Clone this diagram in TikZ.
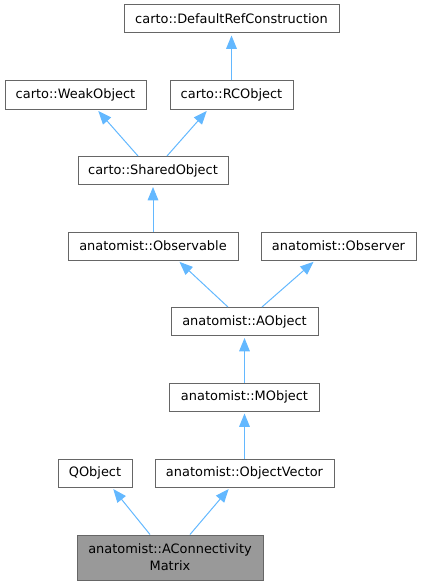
\documentclass[tikz,border=0pt]{standalone}
\usepackage{fontspec}
\setmainfont{DejaVu Sans}
\usepackage{tikz}
\usetikzlibrary{arrows.meta}
\tikzset{
    classbox/.style={rectangle, draw=bordergray, fill=white, line width=0.75pt, minimum width=#1*0.75pt, minimum height=21pt, inner sep=2pt, align=center, font=\fontsize{9.7}{12.75}\selectfont},
    classhl/.style={classbox=#1, fill=hlgray, minimum height=33.75pt},
    inharrow/.style={-{Triangle[length=10pt, width=8pt]}, draw=linkblue, line width=0.75pt, shorten >=1.5pt}
}
\definecolor{bordergray}{RGB}{102,102,102}
\definecolor{hlgray}{RGB}{153,153,153}
\definecolor{linkblue}{RGB}{99,184,255}

\begin{document}
\begin{tikzpicture}[x=0.75pt, y=-0.75pt]
\useasboundingbox (0,0) rectangle (421,585);

% carto
\node[classbox=215] (defref) at (231.5,19) {carto::DefaultRefConstruction};
\node[classbox=141] (weakobj) at (75.5,95) {carto::WeakObject};
\node[classbox=123] (rcobj) at (231.5,95) {carto::RCObject};
\node[classbox=150] (sharedobj) at (153,170.5) {carto::SharedObject};

% anatomist
\node[classbox=170] (observable) at (153,246) {anatomist::Observable};
\node[classbox=155] (observer) at (338.5,246) {anatomist::Observer};
\node[classbox=147] (aobj) at (244.5,321.5) {anatomist::AObject};
\node[classbox=150] (mobj) at (244.5,397) {anatomist::MObject};
\node[classbox=74] (qobj) at (95,473) {QObject};
\node[classbox=179] (objvec) at (244.5,473) {anatomist::ObjectVector};
\node[classhl=186] (aconn) at (170,557.5) {anatomist::AConnectivity\\Matrix};

\draw[inharrow] (rcobj.north) -- (defref.south);
\draw[inharrow] ([xshift=-11.25pt]sharedobj.north) -- ([xshift=16.1pt]weakobj.south);
\draw[inharrow] ([xshift=10.5pt]sharedobj.north) -- ([xshift=-17.6pt]rcobj.south);
\draw[inharrow] (observable.north) -- (sharedobj.south);
\draw[inharrow] ([xshift=-12.4pt]aobj.north) -- ([xshift=18.75pt]observable.south);
\draw[inharrow] ([xshift=13.1pt]aobj.north) -- ([xshift=-17.6pt]observer.south);
\draw[inharrow] (mobj.north) -- (aobj.south);
\draw[inharrow] (objvec.north) -- (mobj.south);
\draw[inharrow] ([xshift=-15pt]aconn.north) -- ([xshift=12.75pt]qobj.south);
\draw[inharrow] ([xshift=15pt]aconn.north) -- ([xshift=-10.9pt]objvec.south);

\end{tikzpicture}
\end{document}
